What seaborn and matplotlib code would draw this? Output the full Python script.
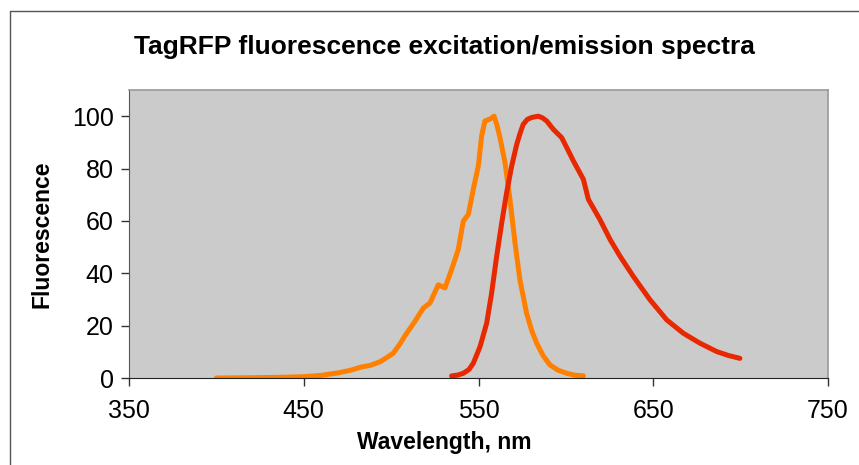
import pandas as pd
import matplotlib.pyplot as plt
import seaborn as sns
from matplotlib.lines import Line2D

# Excitation spectrum (orange)
ex_wavelength = [400, 420, 440, 450, 460, 470, 477, 483, 488, 493.6, 497.5, 501.3, 505.0, 508.9,
                 513.5, 518.4, 522.2, 524.5, 527.0, 530.8, 534.6, 538.4, 541.3, 544.2, 547.0,
                 549.9, 551.8, 553.7, 556.6, 558.9, 560.4, 562.3, 565.2, 568.0, 570.9, 573.7,
                 577.5, 580.5, 583.3, 587.0, 590.9, 595.5, 600.5, 605.0, 610.0]
ex_value = [0, 0.1, 0.3, 0.5, 1.0, 2.0, 3.0, 4.2, 4.8, 6.2, 7.8, 9.5, 13.0, 17.1,
            21.5, 26.7, 28.6, 32.0, 35.6, 34.4, 41.4, 49.0, 59.9, 62.5, 72.0,
            81.0, 92.5, 98.2, 98.9, 100.0, 97.0, 91.8, 82.2, 68.2, 51.6, 37.5,
            24.8, 18.0, 13.3, 8.5, 5.0, 3.0, 1.8, 1.1, 0.8]

# Emission spectrum (red)
em_wavelength = [534.6, 538.0, 541.3, 544.5, 547.0, 550.9, 554.7, 557.5, 560.4, 563.3, 566.1,
                 569.0, 571.9, 573.8, 575.6, 578.0, 580.4, 584.2, 586.5, 589.0, 592.8, 597.6,
                 600.5, 604.3, 610.0, 612.9, 619.5, 625.3, 631.0, 638.6, 648.1, 657.7, 667.2,
                 676.7, 686.3, 693.0, 699.6]
em_value = [0.8, 1.1, 1.8, 3.2, 5.6, 12.0, 21.0, 32.4, 46.5, 59.3, 70.8,
            81.0, 89.3, 93.5, 96.9, 98.8, 99.5, 100.0, 99.4, 98.2, 95.0, 91.8,
            88.0, 82.9, 75.9, 68.2, 60.5, 52.9, 46.5, 38.8, 29.9, 22.2, 17.1,
            13.3, 10.1, 8.6, 7.5]

x_ticks = [350, 450, 550, 650, 750]
y_ticks = [0, 20, 40, 60, 80, 100]

sns.set_style("white")
plt.rcParams['font.family'] = ['Liberation Sans', 'DejaVu Sans']
plt.rcParams['text.color'] = 'black'
plt.rcParams['axes.labelcolor'] = 'black'
plt.rcParams['xtick.color'] = 'black'
plt.rcParams['ytick.color'] = 'black'

ex_df = pd.DataFrame({"wavelength": ex_wavelength, "fluorescence": ex_value})
em_df = pd.DataFrame({"wavelength": em_wavelength, "fluorescence": em_value})

fig = plt.figure(figsize=(8.59, 4.65), dpi=100)
ax = fig.add_axes([129 / 859, 1 - 378 / 465, 699 / 859, 288 / 465])
ax.set_facecolor("#cbcbcb")

sns.lineplot(data=ex_df, x="wavelength", y="fluorescence", ax=ax, color="#ff8000",
             linewidth=3.6, sort=False, estimator=None)
sns.lineplot(data=em_df, x="wavelength", y="fluorescence", ax=ax, color="#e82800",
             linewidth=3.6, sort=False, estimator=None)

ax.set_xlim(350, 750)
ax.set_ylim(0, 110)
ax.set_xticks(x_ticks)
ax.set_yticks(y_ticks)
ax.tick_params(axis="both", labelsize=18, direction="out", length=6, width=1,
               color="#333333", bottom=True, left=True)
ax.tick_params(axis="x", pad=9)
ax.tick_params(axis="y", pad=5)

for side in ["top", "right"]:
    ax.spines[side].set_color("#999999")
    ax.spines[side].set_linewidth(1.2)
ax.spines["left"].set_color("#555555")
ax.spines["bottom"].set_color("#222222")

ax.set_xlabel("Wavelength, nm", fontsize=16.5, fontweight="bold", va="center")
ax.set_ylabel("Fluorescence", fontsize=16.5, fontweight="bold", va="center")
ax.xaxis.set_label_coords((444 - 129) / 699, (378 - 443) / 288)
ax.yaxis.set_label_coords((42 - 129) / 699, 0.5)
fig.text((129 + 759) / 2 / 859, 1 - 47 / 465, "TagRFP fluorescence excitation/emission spectra",
         ha="center", va="center", fontsize=19, fontweight="bold")

# chart frame (left and top edges visible)
fig.add_artist(Line2D([10 / 859, 10 / 859], [0, 1 - 11 / 465], transform=fig.transFigure,
                      color="#555555", linewidth=1))
fig.add_artist(Line2D([10 / 859, 1], [1 - 11 / 465, 1 - 11 / 465], transform=fig.transFigure,
                      color="#555555", linewidth=1))

fig.savefig("out.png", dpi=100)
